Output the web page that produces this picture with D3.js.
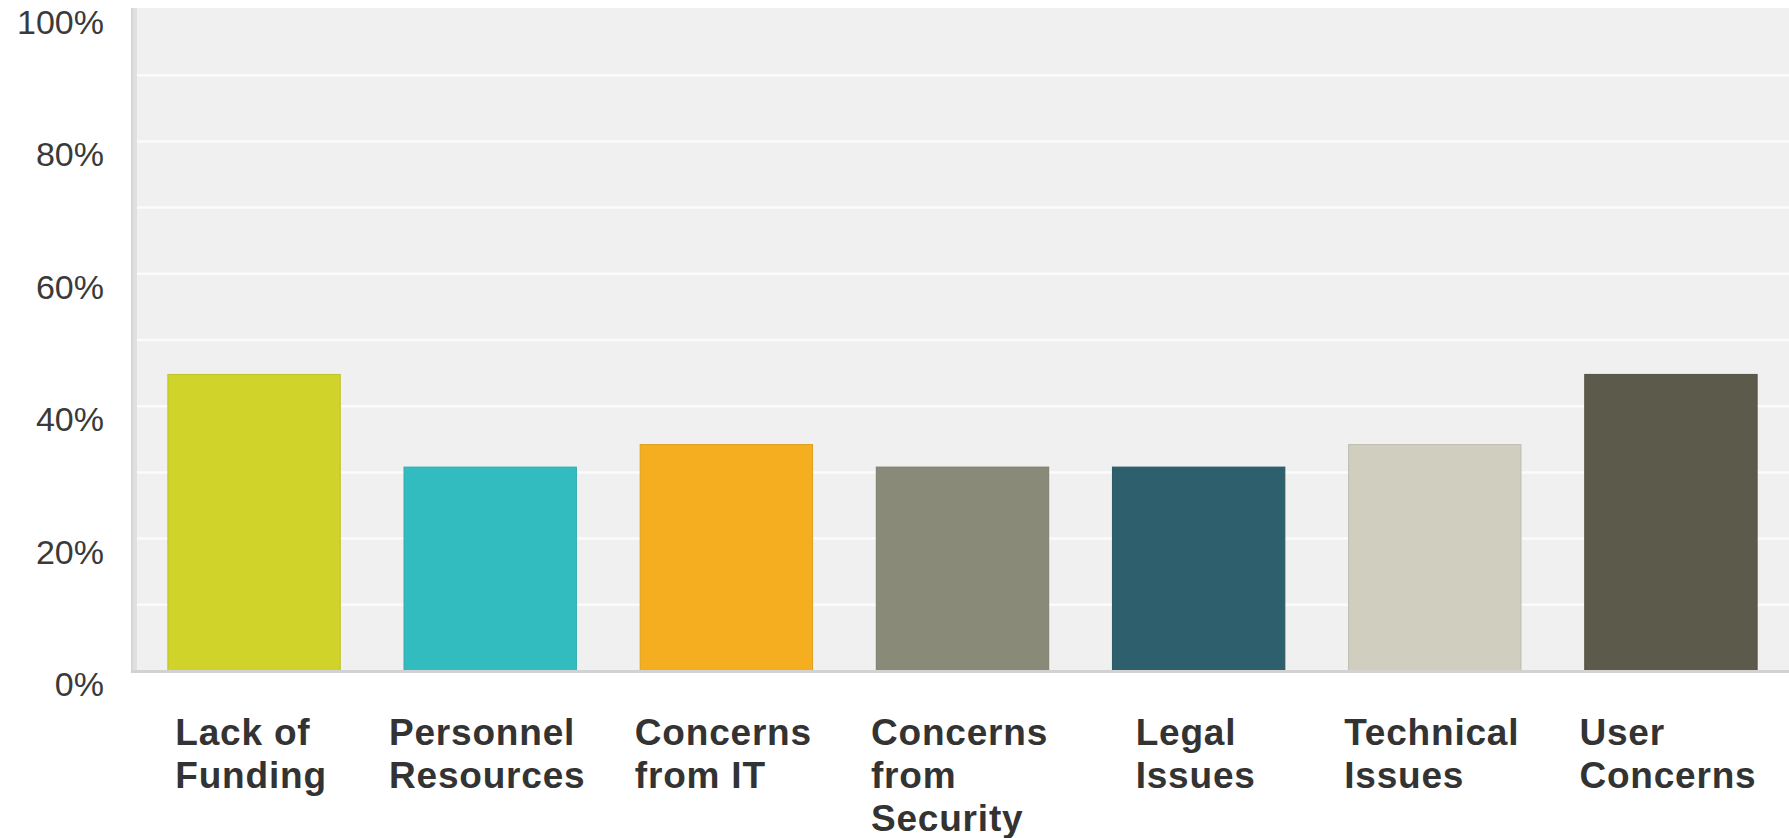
<!DOCTYPE html>
<html>
<head>
<meta charset="utf-8">
<script src="https://cdn.jsdelivr.net/npm/d3@7"></script>
<style>
  html, body { margin: 0; padding: 0; background: #ffffff; }
  .tick-label { font-family: "Liberation Sans", Arial, sans-serif; font-size: 34px; fill: #3a3a3a; }
  .cat-label { font-family: "Liberation Sans", Arial, sans-serif; font-size: 37px; font-weight: bold; fill: #333333; letter-spacing: 0.8px; }
</style>
</head>
<body>
<div id="ChartArea"></div>
<script>
// ------------------------------------------------------------------
//  data
// ------------------------------------------------------------------
var categories = ["Lack of Funding", "Personnel Resources", "Concerns from IT",
                  "Concerns from Security", "Legal Issues", "Technical Issues", "User Concerns"];
var values = [44.8, 30.8, 34.2, 30.8, 30.8, 34.2, 44.8];
var barColors = ["#cfd32a", "#33bcbf", "#f5ae1f", "#898a77", "#2e5f6d", "#d0cebf", "#5c5a4a"];
var tickValues = [0, 20, 40, 60, 80, 100];
var gridValues = [10, 20, 30, 40, 50, 60, 70, 80, 90];

// ------------------------------------------------------------------
function write_bar_chart ()
{
  const width = 1789
  const height = 838
  const plotLeft = 136, plotRight = 1789
  const plotTop = 8, plotBottom = 671

  var svg = d3.select("#ChartArea").append("svg")
      .attr("width", width)
      .attr("height", height);

  // scales
  const x = d3.scaleBand()
      .domain(categories)
      .range([plotLeft, plotRight])
      .paddingInner(0.27)
      .paddingOuter(0.135);

  const y = d3.scaleLinear()
      .domain([0, 100])
      .range([plotBottom, plotTop + 1]);

  // plot background
  svg.append("rect")
      .attr("x", plotLeft)
      .attr("y", plotTop)
      .attr("width", plotRight - plotLeft)
      .attr("height", plotBottom - plotTop)
      .attr("fill", "#f0f0f0");

  // white grid lines every 10%
  svg.append("g")
    .selectAll("line")
    .data(gridValues)
    .enter().append("line")
      .attr("x1", plotLeft)
      .attr("x2", plotRight)
      .attr("y1", function(d) { return y(d); })
      .attr("y2", function(d) { return y(d); })
      .attr("stroke", "#fbfbfb")
      .attr("stroke-width", 2.5);

  // left axis strip
  svg.append("rect")
      .attr("x", 131)
      .attr("y", plotTop)
      .attr("width", 6)
      .attr("height", plotBottom - plotTop + 2)
      .attr("fill", "#e0e0e0");
  svg.append("rect")
      .attr("x", 131)
      .attr("y", plotTop)
      .attr("width", 2)
      .attr("height", plotBottom - plotTop + 2)
      .attr("fill", "#d6d6d6");

  // bars
  svg.selectAll(".bar")
    .data(values)
    .enter().append("rect")
      .attr("class", "bar")
      .attr("x", function(d, i) { return x(categories[i]); })
      .attr("y", function(d) { return y(d); })
      .attr("width", x.bandwidth())
      .attr("height", function(d) { return y(0) - y(d); })
      .attr("fill", function(d, i) { return barColors[i]; })
      .attr("stroke", function(d, i) { return d3.color(barColors[i]).darker(0.25); })
      .attr("stroke-width", 1);

  // bottom axis line
  svg.append("rect")
      .attr("x", 131)
      .attr("y", plotBottom - 1)
      .attr("width", plotRight - 131)
      .attr("height", 3)
      .attr("fill", "#d2d2d2");

  // y tick labels (top of text sits on the grid line)
  svg.append("g")
    .selectAll("text")
    .data(tickValues)
    .enter().append("text")
      .attr("class", "tick-label")
      .attr("x", 104)
      .attr("y", function(d) { return y(d) + 25; })
      .attr("text-anchor", "end")
      .text(function(d) { return d + "%"; });

  // category labels, wrapped, block centred under each bar
  var labels = svg.append("g")
    .selectAll("text")
    .data(categories)
    .enter().append("text")
      .attr("class", "cat-label")
      .attr("y", 745)
      .text(function(d) { return d; });

  labels.each(function(d) { wrap(d3.select(this), 205, 43); });

  labels.each(function(d) {
    var t = d3.select(this);
    var w = 0;
    t.selectAll("tspan").each(function() { w = Math.max(w, this.getComputedTextLength()); });
    var left = x(d) + x.bandwidth() / 2 - w / 2 - 3;
    t.selectAll("tspan").attr("x", left);
  });
}

// ------------------------------------------------------------------
// word wrap into tspans
function wrap (text, maxWidth, lineHeight)
{
  var words = text.text().split(/\s+/);
  var y = text.attr("y");
  text.text(null);
  var line = [];
  var lineNo = 0;
  var tspan = text.append("tspan").attr("x", 0).attr("y", y);
  words.forEach(function(word) {
    line.push(word);
    tspan.text(line.join(" "));
    if (tspan.node().getComputedTextLength() > maxWidth && line.length > 1) {
      line.pop();
      tspan.text(line.join(" "));
      line = [word];
      lineNo++;
      tspan = text.append("tspan")
          .attr("x", 0)
          .attr("y", +y + lineNo * lineHeight)
          .text(word);
    }
  });
}

write_bar_chart();
</script>
</body>
</html>
